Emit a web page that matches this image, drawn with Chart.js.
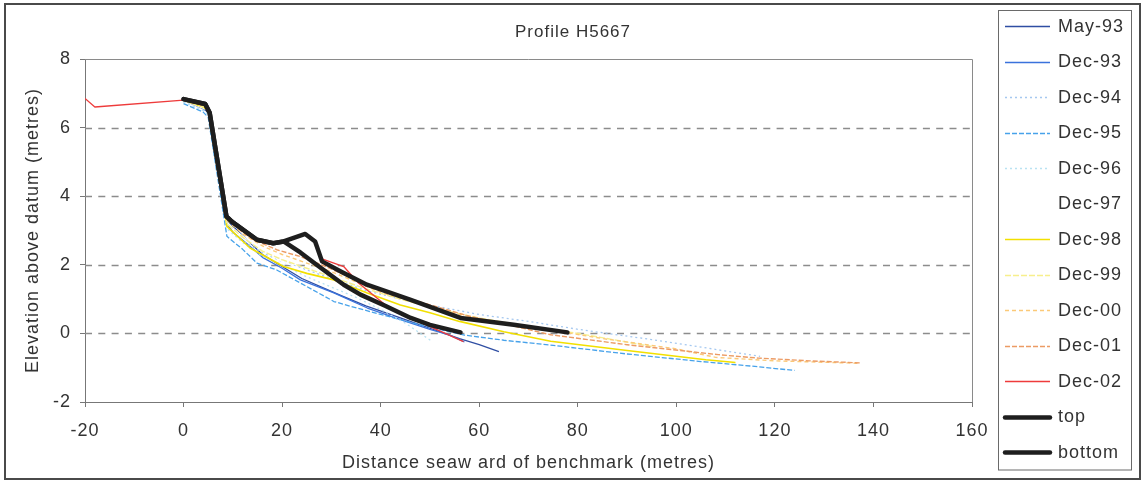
<!DOCTYPE html>
<html>
<head>
<meta charset="utf-8">
<title>Profile H5667</title>
<script src="https://cdn.jsdelivr.net/npm/chart.js@4/dist/chart.umd.min.js"></script>
<style>
  html, body { margin: 0; padding: 0; background: #ffffff; }
  #wrap { width: 1147px; height: 483px; position: relative; }
</style>
</head>
<body>
<div id="wrap"><canvas id="profile" width="1147" height="483"></canvas></div>
<script>
// Beach profile survey lines: [distance seaward (m), elevation above datum (m)]
const may93 = [[0,6.8],[4,6.55],[5,6.45],[8.8,3.3],[12,2.85],[16,2.3],[20,1.95],[24,1.6],[28,1.35],[32,1.1],[37,0.8],[44,0.45],[50,0.15],[56,-0.15],[60,-0.33],[64,-0.53]];
const dec93 = [[0,6.8],[4,6.6],[5,6.5],[8.8,3.2],[10,2.95],[13,2.6],[16.2,2.2],[20,1.9],[23.7,1.56],[30.5,1.18],[37.3,0.74],[44,0.4],[50,0.12],[54,-0.05],[57,-0.25]];
const dec94 = [[0,6.75],[4,6.5],[5,6.4],[8.8,3.1],[12,2.7],[16,2.35],[20,2.1],[24,1.9],[30,1.6],[37,1.25],[44,1.0],[51,0.8],[60,0.55],[70,0.35],[80,0.12],[95,-0.18],[105,-0.4],[117,-0.67]];
const dec95 = [[0,6.7],[4,6.45],[5,6.3],[8.8,2.83],[12,2.45],[14.9,2.05],[18.9,1.85],[23.7,1.47],[30.5,0.93],[33.9,0.79],[44,0.4],[50,0.18],[57,-0.05],[65,-0.2],[75,-0.35],[90,-0.6],[105,-0.82],[115,-0.95],[124,-1.08]];
const dec96 = [[0,6.75],[4,6.5],[5,6.4],[8.8,3.05],[12,2.65],[16,2.25],[20,2.0],[25,1.65],[30,1.35],[35,1.05],[40,0.7],[45,0.3],[50.5,-0.24]];
const dec97 = [[0,6.8],[5,6.5],[8.8,3.2],[15,2.5],[20,2.1],[30,1.5],[40,0.9],[48,0.4]];
const dec98 = [[0,6.8],[4,6.6],[5,6.5],[8.8,3.12],[13.5,2.49],[20.3,1.95],[25,1.75],[30.5,1.56],[37.3,1.18],[44,0.83],[50,0.6],[56,0.35],[65,0.05],[74.5,-0.23],[90,-0.5],[106,-0.77],[112,-0.85]];
const dec99 = [[0,6.8],[5,6.55],[8.8,3.2],[12,2.8],[16,2.4],[20,2.15],[25,1.9],[30,1.65],[37,1.3],[44,1.0],[52,0.7],[60,0.45],[70,0.2],[80,0.0],[95,-0.38]];
const dec00 = [[0,6.8],[5,6.6],[8.8,3.3],[12,2.9],[16,2.55],[20,2.3],[25,2.05],[30,1.8],[35,1.5],[40,1.2],[45,0.98],[50,0.8],[56,0.55],[65,0.3],[74.5,0.1],[85,-0.15],[100,-0.45],[108,-0.7],[120,-0.8],[137,-0.87]];
const dec01 = [[0,6.8],[5,6.6],[8.8,3.35],[12,2.95],[14.2,2.73],[18.9,2.44],[23.7,2.24],[28,2.0],[32,1.75],[36,1.5],[40,1.25],[46,1.0],[52,0.75],[58,0.5],[66,0.25],[74.5,-0.04],[90,-0.33],[108.5,-0.62],[116.6,-0.72],[127,-0.8],[137.3,-0.86]];
const dec02 = [[-20,6.85],[-18,6.6],[0,6.8],[4.4,6.69],[5.5,6.35],[8.8,3.38],[11,3.1],[15,2.75],[18.2,2.63],[20.3,2.68],[24.7,2.88],[26.7,2.65],[27.8,2.19],[32.5,1.95],[35.5,1.47],[41.3,0.79],[46,0.45],[52.2,0.06],[56.8,-0.24]];
const topProfile = [[0,6.83],[4.4,6.69],[5.3,6.43],[8.7,3.41],[9.8,3.26],[14.9,2.73],[18.2,2.63],[20.3,2.68],[24.7,2.9],[26.7,2.68],[28.1,2.1],[32,1.8],[37.2,1.42],[46.1,0.98],[56.2,0.45],[67,0.25],[77.9,0.03]];
const bottomProfile = [[0,6.83],[4.4,6.69],[5.3,6.43],[8.7,3.41],[9.8,3.26],[14.9,2.73],[18.2,2.63],[20.3,2.68],[23.7,2.36],[27,2.0],[32.5,1.42],[35.9,1.13],[41,0.8],[46.1,0.45],[50,0.25],[56.2,0.03]];

const seriesNames = ['May-93','Dec-93','Dec-94','Dec-95','Dec-96','Dec-97','Dec-98','Dec-99','Dec-00','Dec-01','Dec-02','top','bottom'];
const seriesData = [may93, dec93, dec94, dec95, dec96, dec97, dec98, dec99, dec00, dec01, dec02, topProfile, bottomProfile];

const xTickValues = [-20, 0, 20, 40, 60, 80, 100, 120, 140, 160];
const yTickValues = [-2, 0, 2, 4, 6, 8];

// Line styles for each survey
const lineColors = ['#2f4ea3','#3a72dc','#a5c8f0','#47a2ea','#b9e2f2','#ffffff','#f2e000','#f7ef8c','#fbc978','#ec9b64','#ee3b3b','#1e1e1e','#1e1e1e'];
const lineWidths = [1.3,1.3,1.3,1.3,1.3,1.3,1.6,1.4,1.4,1.4,1.3,4.5,4.5];
const lineDashes = [[],[],[2,3],[5,2],[2,3],[],[],[6,2],[4,3],[5,2],[],[],[]];

const FONT = "'Liberation Sans', Arial, sans-serif";
const TEXT = '#333333';

const datasets = seriesNames.map((name, i) => ({
  label: name,
  data: seriesData[i].map(p => ({ x: p[0], y: p[1] })),
  showLine: true,
  borderColor: lineColors[i],
  backgroundColor: lineColors[i],
  borderWidth: lineWidths[i],
  borderDash: lineDashes[i],
  borderJoinStyle: 'round',
  borderCapStyle: i >= 11 ? 'round' : 'butt',
  pointRadius: 0,
  pointHoverRadius: 0,
  tension: 0,
  order: seriesNames.length - i
}));

const decor = {
  id: 'decor',
  beforeDraw(chart) {
    const ctx = chart.ctx;
    ctx.save();
    ctx.fillStyle = '#ffffff';
    ctx.fillRect(0, 0, chart.width, chart.height);
    ctx.restore();
    ctx.letterSpacing = '1px';
  },
  beforeDatasetsDraw(chart) {
    const { ctx, chartArea: a, scales: { y } } = chart;
    ctx.save();
    // dashed horizontal gridlines
    ctx.strokeStyle = '#8c8c8c';
    ctx.lineWidth = 1.6;
    ctx.setLineDash([7, 6.3]);
    yTickValues.filter(v => v > y.min && v < y.max).forEach(v => {
      const py = Math.round(y.getPixelForValue(v)) + 0.5;
      ctx.beginPath();
      ctx.moveTo(a.left, py);
      ctx.lineTo(a.right, py);
      ctx.stroke();
    });
    // plot frame, top and right sides
    ctx.setLineDash([]);
    ctx.strokeStyle = '#8a8a8a';
    ctx.lineWidth = 1;
    ctx.beginPath();
    ctx.moveTo(a.left, Math.round(a.top) + 0.5);
    ctx.lineTo(Math.round(a.right) + 0.5, Math.round(a.top) + 0.5);
    ctx.lineTo(Math.round(a.right) + 0.5, a.bottom);
    ctx.stroke();
    ctx.restore();
  },
  afterDraw(chart) {
    const ctx = chart.ctx;
    ctx.save();
    ctx.letterSpacing = '1px';
    // outer border
    ctx.strokeStyle = '#4a4a4a';
    ctx.lineWidth = 2;
    ctx.strokeRect(5, 4, 1135, 475);
    // chart title
    ctx.fillStyle = TEXT;
    ctx.font = '17px ' + FONT;
    ctx.textAlign = 'center';
    ctx.textBaseline = 'middle';
    ctx.fillText('Profile H5667', 573, 32);
    // legend box
    ctx.strokeStyle = '#6a6a6a';
    ctx.lineWidth = 1;
    ctx.strokeRect(998.5, 10.5, 133, 459.5);
    ctx.font = '18px ' + FONT;
    ctx.textAlign = 'left';
    chart.data.datasets.forEach((ds, i) => {
      const yy = 26 + i * 35.5;
      const thick = ds.borderWidth > 3;
      ctx.save();
      ctx.strokeStyle = ds.borderColor;
      ctx.lineWidth = thick ? 4.5 : ds.borderWidth;
      ctx.setLineDash(ds.borderDash || []);
      ctx.lineCap = thick ? 'round' : 'butt';
      ctx.beginPath();
      ctx.moveTo(1005, Math.round(yy) + 0.5);
      ctx.lineTo(1050, Math.round(yy) + 0.5);
      ctx.stroke();
      ctx.restore();
      ctx.fillStyle = TEXT;
      ctx.fillText(ds.label, 1058, yy + 1);
    });
    ctx.restore();
  }
};

new Chart(document.getElementById('profile'), {
  type: 'scatter',
  data: { datasets },
  options: {
    responsive: false,
    animation: false,
    devicePixelRatio: 1,
    events: [],
    layout: { padding: { left: 0, top: 59, right: 1147 - 972, bottom: 0 } },
    plugins: {
      legend: { display: false },
      title: { display: false },
      tooltip: { enabled: false }
    },
    scales: {
      x: {
        type: 'linear',
        min: -20,
        max: 160,
        afterBuildTicks: s => { s.ticks = xTickValues.map(v => ({ value: v })); },
        afterFit: s => { s.height = 81; },
        grid: { drawOnChartArea: false, drawTicks: true, tickLength: 5, tickColor: '#777', tickWidth: 1 },
        border: { display: true, color: '#777', width: 1 },
        ticks: { color: TEXT, font: { family: FONT, size: 18 }, padding: 13, maxRotation: 0, autoSkip: false },
        title: {
          display: true,
          text: 'Distance seaw ard of benchmark (metres)',
          color: TEXT,
          font: { family: FONT, size: 18 },
          padding: { top: 0, bottom: 9 }
        }
      },
      y: {
        type: 'linear',
        min: -2,
        max: 8,
        afterBuildTicks: s => { s.ticks = yTickValues.map(v => ({ value: v })); },
        afterFit: s => { s.width = 85; },
        grid: { drawOnChartArea: false, drawTicks: true, tickLength: 5, tickColor: '#777', tickWidth: 1 },
        border: { display: true, color: '#777', width: 1 },
        ticks: { color: TEXT, font: { family: FONT, size: 18 }, padding: 9, autoSkip: false },
        title: {
          display: true,
          text: 'Elevation above datum (metres)',
          color: TEXT,
          font: { family: FONT, size: 18 },
          padding: { top: 22, bottom: 0 }
        }
      }
    }
  },
  plugins: [decor]
});
</script>
</body>
</html>
